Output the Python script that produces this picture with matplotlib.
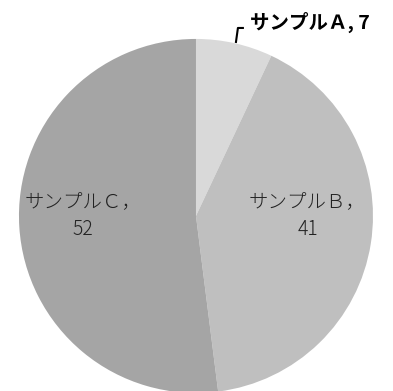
import matplotlib.pyplot as plt

plt.rcParams['font.family'] = ['Noto Sans CJK JP', 'DejaVu Sans']

# データ
labels = ['サンプルＡ', 'サンプルＢ', 'サンプルＣ']
values = [7, 41, 52]
colors = ['#d9d9d9', '#bfbfbf', '#a5a5a5']

fig = plt.figure(figsize=(3.93, 3.91), dpi=100)
ax = fig.add_axes([0, 0, 1, 1])

wedges, _ = ax.pie(values, colors=colors, startangle=90, counterclock=False,
                   radius=1.0, center=(0, 0))

ax.set_xlim(-1.107, 1.113)
ax.set_ylim(-0.989, 1.220)
ax.set_aspect('equal')
ax.axis('off')

# ラベル
ax.text(-0.64, 0.0, f'{labels[2]}，\n{values[2]}', ha='center', va='center',
        fontsize=14, linespacing=1.4, color='#222222', fontweight='light')
ax.text(0.63, 0.0, f'{labels[1]}，\n{values[1]}', ha='center', va='center',
        fontsize=14, linespacing=1.4, color='#222222', fontweight='light')
ax.text(0.305, 1.096, f'{labels[0]}, {values[0]}', ha='left', va='center',
        fontsize=14, fontweight='bold', color='black')

# 引き出し線
ax.plot([0.226, 0.237, 0.265], [0.983, 1.062, 1.062], color='black', lw=1.5)

fig.savefig('out.png', dpi=100)
